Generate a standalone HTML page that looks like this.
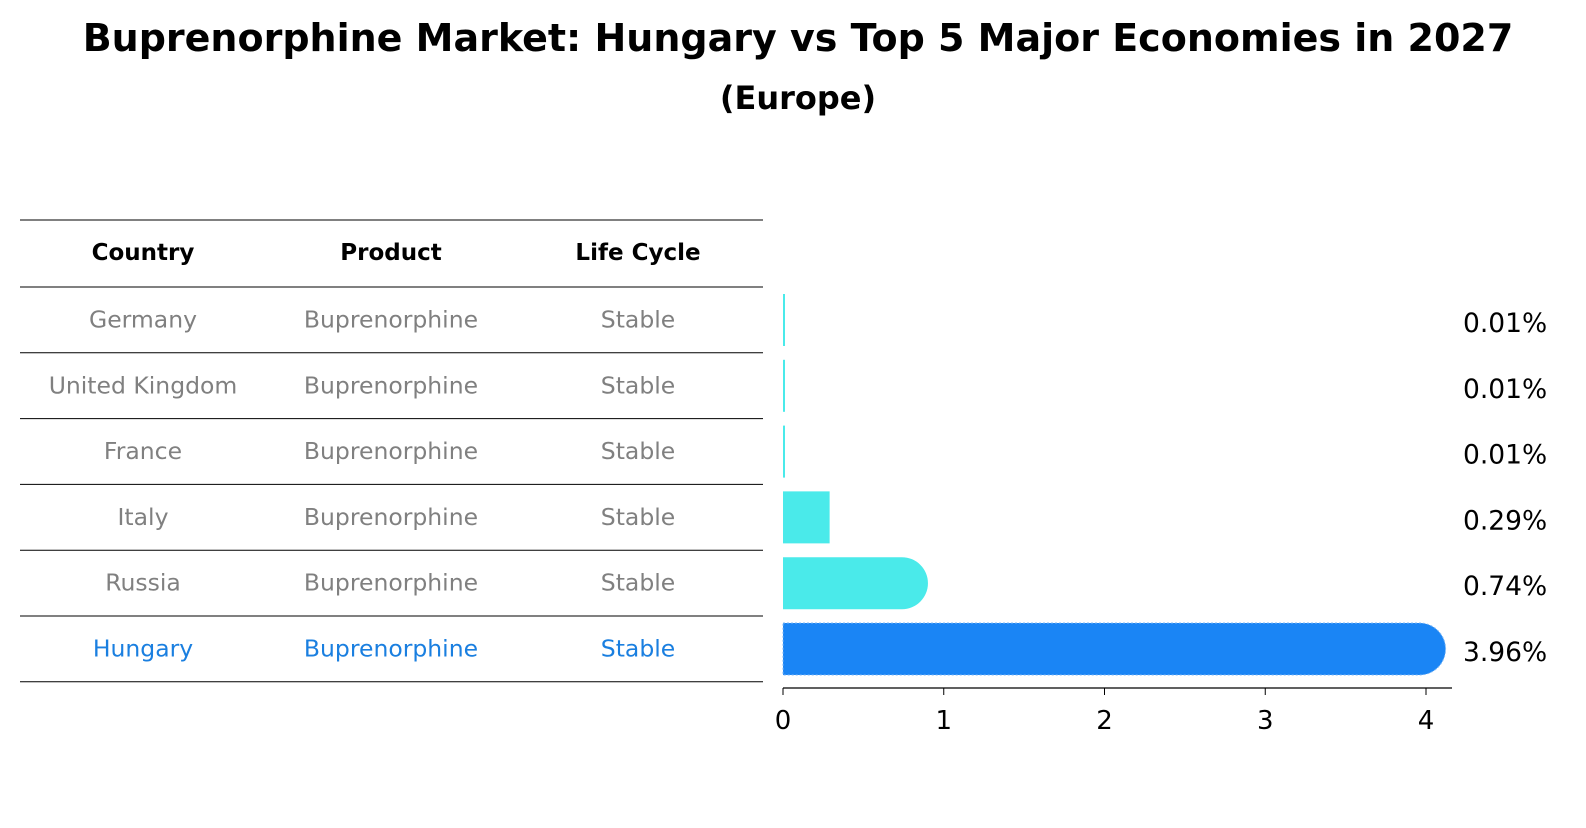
<!DOCTYPE html>
<html><head><meta charset="utf-8"><style>
body{margin:0;background:#fff;font-family:"Liberation Sans","DejaVu Sans",sans-serif;}
svg text{font-family:"DejaVu Sans","Liberation Sans",sans-serif;}
</style></head><body>
<svg id="chart" width="1586" height="823" viewBox="0 0 1586 823">
<text x="798" y="51" text-anchor="middle" font-size="38" font-weight="bold">Buprenorphine Market: Hungary vs Top 5 Major Economies in 2027</text>
<text x="798" y="109" text-anchor="middle" font-size="32" font-weight="bold">(Europe)</text>
<g id="table"></g>
<g id="bars"></g>
</svg>
<script>
const countries=["Germany","United Kingdom","France","Italy","Russia","Hungary"];
const products=["Buprenorphine","Buprenorphine","Buprenorphine","Buprenorphine","Buprenorphine","Buprenorphine"];
const lifecycle=["Stable","Stable","Stable","Stable","Stable","Stable"];
const values=[0.01,0.01,0.01,0.29,0.74,3.96];
const labels=["0.01%","0.01%","0.01%","0.29%","0.74%","3.96%"];
const ticks=[0,1,2,3,4];
const NS="http://www.w3.org/2000/svg";
function mk(tag,attrs,parent,text){const e=document.createElementNS(NS,tag);for(const k in attrs)e.setAttribute(k,attrs[k]);if(text!==undefined)e.textContent=text;parent.appendChild(e);return e;}
const x=v=>783+v*160.75;
const rowTop=i=>287+i*65.8;
const T=document.getElementById('table'),B=document.getElementById('bars');
const lineYs=[220,287];for(let i=1;i<=6;i++)lineYs.push(287+i*65.8);
lineYs.forEach(y=>{const l=mk('line',{x1:20,x2:763,y1:y,y2:y,stroke:'#000','stroke-width':1},T);

});
const cx=[143,391,638];
["Country","Product","Life Cycle"].forEach((h,j)=>{const t=mk('text',{x:cx[j],y:260,'text-anchor':'middle','font-size':23,'font-weight':'bold'},T,h);

});
countries.forEach((c,i)=>{const col=c==="Hungary"?'#1a7fe0':'#808080';const y=rowTop(i)+32+8.5;
[c,products[i],lifecycle[i]].forEach((v,j)=>{const t=mk('text',{x:cx[j],y:y,'text-anchor':'middle','font-size':23.5,fill:col},T,v);

});});
const h=52,r=26;
values.forEach((v,i)=>{const top=rowTop(i)+7;const x0=x(0),x1=x(v);const hung=countries[i]==="Hungary";
const fill=hung?'#1a85f5':'#4aeaea';let d;
if(x1-x0>2*r){d=`M${x0},${top}H${x1}A${r},${r} 0 0 1 ${x1},${top+h}H${x0}Z`;}
else{const w=Math.max(x1-x0,2);d=`M${x0},${top}h${w}v${h}h${-w}Z`;}
const p=mk('path',{d:d,fill:fill},B);


if(hung){p.setAttribute('stroke','#7fb8f5');p.setAttribute('stroke-dasharray','2 2');p.setAttribute('stroke-width','1');}
const t=mk('text',{x:1463,y:top+h/2+12,'font-size':26.5},B,labels[i]);

});
const ax=mk('line',{x1:783,x2:1452,y1:688,y2:688,stroke:'#000','stroke-width':1.2},B);


ticks.forEach(tk=>{const l=mk('line',{x1:x(tk),x2:x(tk),y1:688,y2:695,stroke:'#000'},B);


const t=mk('text',{x:x(tk),y:729,'text-anchor':'middle','font-size':26},B,String(tk));

});
</script>
</body></html>
